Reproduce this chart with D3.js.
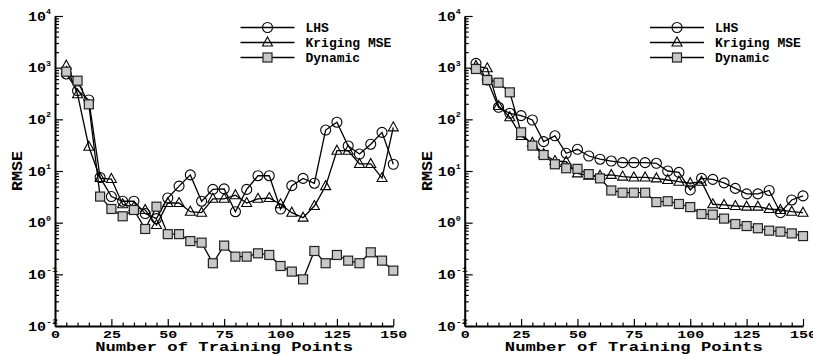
<!DOCTYPE html>
<html>
<head>
<meta charset="utf-8">
<script src="https://cdn.jsdelivr.net/npm/d3@7"></script>
<style>
  body { margin: 0; background: #fff; }
  text { font-family: "Liberation Mono", "DejaVu Sans Mono", monospace; font-weight: bold; fill: #000; }
</style>
</head>
<body>
<svg id="chart" width="813" height="354"></svg>
<script>
// training point counts (x)
const points = [5, 10, 15, 20, 25, 30, 35, 40, 45, 50, 55, 60, 65, 70, 75,
    80, 85, 90, 95, 100, 105, 110, 115, 120, 125, 130, 135, 140, 145, 150];

// left panel
const lhsLeft = [755, 359, 237, 7.5, 3.2, 2.6, 2.6, 1.5, 1.2, 3.0, 5.1, 8.4, 2.6, 4.4, 4.5,
    1.63, 4.4, 8.1, 8.1, 1.84, 5.2, 7.2, 5.8, 62, 88, 30.5, 21.3, 33, 56, 13.5];
const krigLeft = [1090, 305, 29.5, 7.3, 7.0, 2.27, 2.0, 1.76, 0.9, 2.4, 2.4, 1.63, 1.56, 2.9, 2.9,
    3.4, 2.4, 2.9, 3.0, 2.27, 1.56, 1.25, 2.1, 5.1, 24.7, 24.7, 13.7, 13.7, 7.3, 70];
const dynLeft = [836, 560, 195, 3.2, 1.84, 1.33, 1.76, 0.755, 2.04, 0.6, 0.6, 0.44, 0.41, 0.164, 0.36,
    0.22, 0.22, 0.255, 0.237, 0.145, 0.113, 0.08, 0.283, 0.164, 0.237, 0.184, 0.164, 0.267, 0.184, 0.118];

// right panel
const lhsRight = [1213, 577, 171, 131, 118, 97, 37, 48, 22, 26.3, 19.5, 16.9, 15.6, 14.5, 14.5,
    14.5, 14.1, 10, 9.4, 4.3, 7.2, 6.9, 5.9, 4.6, 3.6, 3.6, 4.2, 1.56, 2.75, 3.3];
const krigRight = [1077, 972, 181, 110, 47.7, 35, 21.3, 15.6, 15.1, 9.0, 8.1, 8.1, 8.4, 7.8, 7.5,
    7.5, 7.2, 6.7, 6.2, 5.8, 6.2, 2.27, 2.2, 2.1, 2.04, 2.04, 1.84, 1.76, 1.63, 1.56];
const dynRight = [943, 577, 512, 333, 56, 31, 20.4, 13.5, 11.3, 11, 8.7, 7.2, 4.2, 3.8, 3.8,
    3.8, 2.5, 2.6, 2.3, 2.0, 1.47, 1.43, 1.2, 0.94, 0.86, 0.78, 0.70, 0.67, 0.62, 0.55];

const seriesNames = ["LHS", "Kriging MSE", "Dynamic"];
const xTicks = [0, 25, 50, 75, 100, 125, 150];
const xMinor = [5, 10, 15, 20, 30, 35, 40, 45, 55, 60, 65, 70, 80, 85, 90, 95,
    105, 110, 115, 120, 130, 135, 140, 145];
const yExponents = [-2, -1, 0, 1, 2, 3, 4];

const svg = d3.select("#chart");

// wide, short lettering like the original
function widen(sel, perChar) {
    sel.attr("lengthAdjust", "spacingAndGlyphs")
        .attr("textLength", function() { return this.textContent.length * perChar; });
}

function marker(sel, kind) {
    if (kind === 0) {
        sel.append("circle").attr("r", 5)
            .attr("fill", "none").attr("stroke", "#000").attr("stroke-width", 1.1);
    } else if (kind === 1) {
        sel.append("path").attr("d", "M0,-5.5L5,3.5L-5,3.5Z")
            .attr("fill", "none").attr("stroke", "#000").attr("stroke-width", 1.1);
    } else {
        sel.append("rect").attr("x", -4.5).attr("y", -4.5).attr("width", 9).attr("height", 9)
            .attr("fill", "#c8c8c8").attr("stroke", "#222").attr("stroke-width", 1.2);
    }
}

function drawPanel(left, right, series, legendX) {
    const g = svg.append("g");
    const x = d3.scaleLinear().domain([0, 150]).range([left, right]);
    const y = d3.scaleLog().domain([1e-2, 1e4]).range([326, 16]);

    // minor log ticks
    const yMinor = [];
    yExponents.slice(0, -1).forEach(e => {
        for (let k = 2; k < 10; k++) yMinor.push(k * Math.pow(10, e));
    });

    g.append("g").attr("transform", `translate(${left},0)`)
        .call(d3.axisLeft(y).tickValues(yMinor).tickSize(-4).tickFormat("").tickSizeOuter(0))
        .call(a => a.select(".domain").remove());
    g.append("g").attr("transform", `translate(0,326)`)
        .call(d3.axisBottom(x).tickValues(xMinor).tickSize(-3.5).tickFormat("").tickSizeOuter(0))
        .call(a => a.select(".domain").remove());

    const ya = g.append("g").attr("transform", `translate(${left},0)`)
        .call(d3.axisLeft(y).tickValues(yExponents.map(e => Math.pow(10, e)))
            .tickSize(-8).tickFormat("").tickSizeOuter(0));
    ya.select(".domain").attr("stroke-width", 2);

    const xa = g.append("g").attr("transform", `translate(0,326)`)
        .call(d3.axisBottom(x).tickValues(xTicks).tickSize(-7).tickPadding(0).tickSizeOuter(0));
    xa.select(".domain").attr("stroke-width", 2);
    xa.selectAll("text").attr("font-size", 11.5).attr("dy", null).attr("y", 11.8)
        .style("font-family", null).call(widen, 9);
    g.selectAll(".tick line").attr("stroke", "#000").attr("stroke-width", 1.2);

    // y tick labels 10^n
    yExponents.forEach(e => {
        const yy = y(Math.pow(10, e));
        g.append("text").attr("x", left - 27).attr("y", yy + 4.5)
            .attr("font-size", 12).text("10").call(widen, 9);
        g.append("text").attr("x", left - 9).attr("y", yy - 2).attr("font-size", 8)
            .text(e < 0 ? "-" + (-e) : String(e)).call(widen, e < 0 ? 6 : 5);
    });

    // axis titles
    g.append("text").attr("x", (left + right) / 2).attr("y", 350.5)
        .attr("text-anchor", "middle").attr("font-size", 13.5)
        .attr("lengthAdjust", "spacingAndGlyphs").attr("textLength", 258)
        .text("Number of Training Points");
    g.append("text")
        .attr("transform", `translate(${left - 38},171) rotate(-90)`)
        .attr("text-anchor", "middle").attr("dy", "0.35em").attr("font-size", 14)
        .text("RMSE").call(widen, 10);

    const line = d3.line().x((d, i) => x(points[i])).y(d => y(d));

    series.forEach((vals, k) => {
        const s = g.append("g");
        s.append("path").datum(vals).attr("d", line)
            .attr("fill", "none").attr("stroke", "#000").attr("stroke-width", 1.3);
        s.selectAll("g.pt").data(vals).join("g").attr("class", "pt")
            .attr("transform", (d, i) => `translate(${x(points[i])},${y(d)})`)
            .each(function() { marker(d3.select(this), k); });
    });

    // legend
    seriesNames.forEach((name, k) => {
        const ly = 27.5 + k * 15;
        const lg = g.append("g").attr("transform", `translate(${legendX},${ly})`);
        lg.append("line").attr("x1", -27).attr("x2", 27)
            .attr("stroke", "#000").attr("stroke-width", 1.3);
        marker(lg, k);
        lg.append("text").attr("x", 38).attr("y", 4).attr("font-size", 12)
            .text(name).call(widen, 7.8);
    });
}

drawPanel(55, 393.3, [lhsLeft, krigLeft, dynLeft], 267.5);
drawPanel(464.7, 803, [lhsRight, krigRight, dynRight], 677);
</script>
</body>
</html>
